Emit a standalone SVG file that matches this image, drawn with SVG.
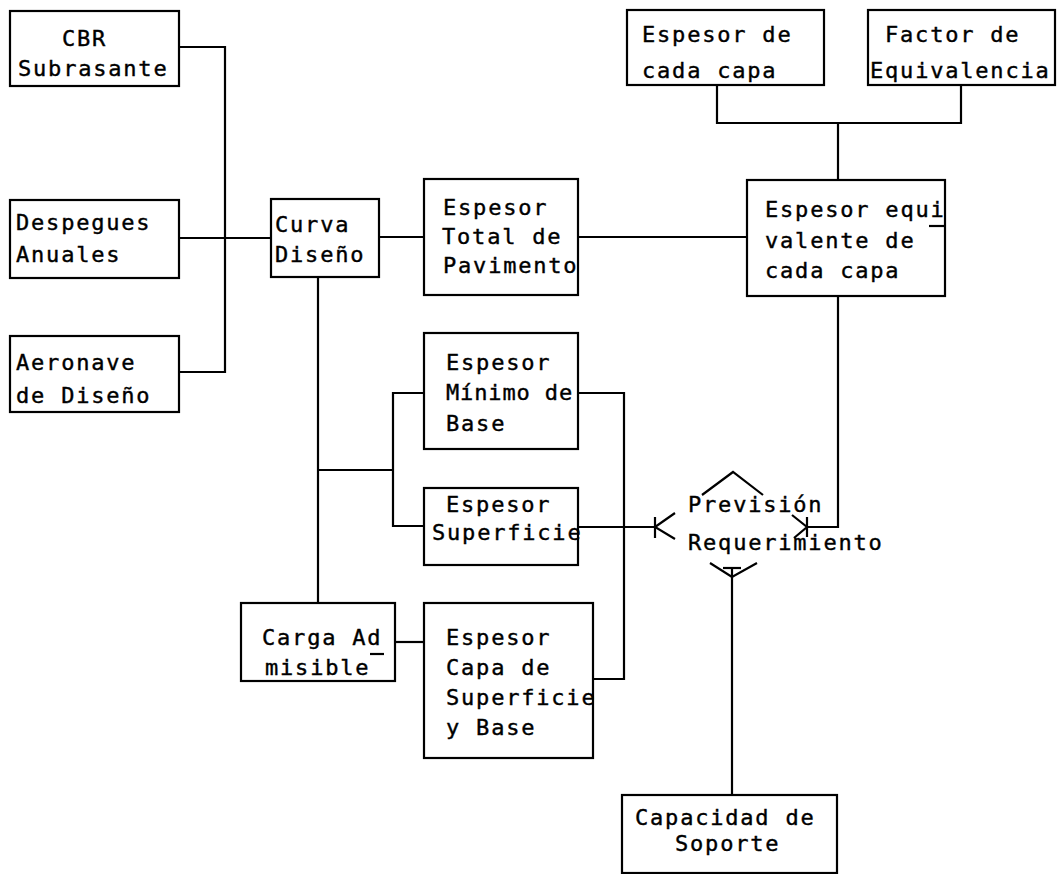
<svg xmlns="http://www.w3.org/2000/svg" width="1061" height="874" viewBox="0 0 1061 874">
<style>
.box{fill:none;stroke:#000;stroke-width:2.2}
.ln{fill:none;stroke:#000;stroke-width:2.2}
text{font-family:"DejaVu Sans Mono","Liberation Mono",monospace;font-size:22px;letter-spacing:1.8px;fill:#000;stroke:#000;stroke-width:0.4}
</style>
<rect width="1061" height="874" fill="#fff"/>
<g id="connectors">
<polyline class="ln" points="179,47 225,47 225,372 179,372"/>
<line class="ln" x1="179" y1="238" x2="271" y2="238"/>
<line class="ln" x1="379" y1="237" x2="424" y2="237"/>
<line class="ln" x1="578" y1="237" x2="747" y2="237"/>
<polyline class="ln" points="717,85 717,123 961,123 961,85"/>
<line class="ln" x1="838" y1="123" x2="838" y2="180"/>
<polyline class="ln" points="838,296 838,527 807,527"/>
<line class="ln" x1="318" y1="277" x2="318" y2="603"/>
<line class="ln" x1="318" y1="470" x2="393" y2="470"/>
<polyline class="ln" points="424,393 393,393 393,526 424,526"/>
<line class="ln" x1="578" y1="527" x2="655" y2="527"/>
<polyline class="ln" points="578,393 624,393 624,679 593,679"/>
<line class="ln" x1="395" y1="642" x2="424" y2="642"/>
<line class="ln" x1="732" y1="568" x2="732" y2="795"/>
<line class="ln" x1="655" y1="517" x2="655" y2="538"/>
<polyline class="ln" points="675,513 655,527 675,539"/>
<line class="ln" x1="807" y1="517" x2="807" y2="537"/>
<polyline class="ln" points="792,515 807,527 794,538"/>
<line class="ln" x1="723" y1="568" x2="741" y2="568"/>
<polyline class="ln" points="710,563 732,577 757,563"/>
<polyline class="ln" points="702,495 733,472 763,495"/>
</g>
<g id="n-cbr"><rect class="box" x="10" y="11" width="169" height="75"/><text x="62" y="46">CBR</text><text x="18" y="76">Subrasante</text></g>
<g id="n-despegues"><rect class="box" x="10" y="200" width="169" height="78"/><text x="16" y="230">Despegues</text><text x="16" y="262">Anuales</text></g>
<g id="n-aeronave"><rect class="box" x="10" y="336" width="169" height="76"/><text x="16" y="370">Aeronave</text><text x="16" y="403">de Diseño</text></g>
<g id="n-curva"><rect class="box" x="271" y="199" width="108" height="78"/><text x="275" y="232">Curva</text><text x="275" y="262">Diseño</text></g>
<g id="n-total"><rect class="box" x="424" y="179" width="154" height="116"/><text x="443" y="215">Espesor</text><text x="442" y="244">Total de</text><text x="443" y="273">Pavimento</text></g>
<g id="n-cadacapa"><rect class="box" x="627" y="10" width="197" height="75"/><text x="642" y="42">Espesor de</text><text x="642" y="78">cada capa</text></g>
<g id="n-factor"><rect class="box" x="868" y="10" width="187" height="75"/><text x="885" y="42">Factor de</text><text x="870" y="78">Equivalencia</text></g>
<g id="n-equi"><rect class="box" x="747" y="180" width="198" height="116"/><text x="765" y="217">Espesor equi</text><text x="765" y="248">valente de</text><text x="765" y="278">cada capa</text><line class="ln" x1="929" y1="226" x2="944" y2="226"/></g>
<g id="n-minimo"><rect class="box" x="424" y="333" width="154" height="116"/><text x="446" y="370">Espesor</text><text x="446" y="400" textLength="128" lengthAdjust="spacing">Mínimo de</text><text x="446" y="431">Base</text></g>
<g id="n-superficie"><rect class="box" x="424" y="488" width="154" height="77"/><text x="446" y="512">Espesor</text><text x="432" y="540">Superficie</text></g>
<g id="n-carga"><rect class="box" x="241" y="603" width="154" height="78"/><text x="262" y="645">Carga Ad</text><text x="265" y="675">misible</text><line class="ln" x1="370" y1="654" x2="384" y2="654"/></g>
<g id="n-capa"><rect class="box" x="424" y="603" width="169" height="155"/><text x="446" y="645">Espesor</text><text x="446" y="675">Capa de</text><text x="446" y="705">Superficie</text><text x="446" y="735">y Base</text></g>
<g id="n-prevision"><text x="688" y="512">Previsión</text><text x="688" y="550">Requerimiento</text></g>
<g id="n-capacidad"><rect class="box" x="622" y="795" width="215" height="78"/><text x="635" y="825">Capacidad de</text><text x="675" y="851">Soporte</text></g>
</svg>
